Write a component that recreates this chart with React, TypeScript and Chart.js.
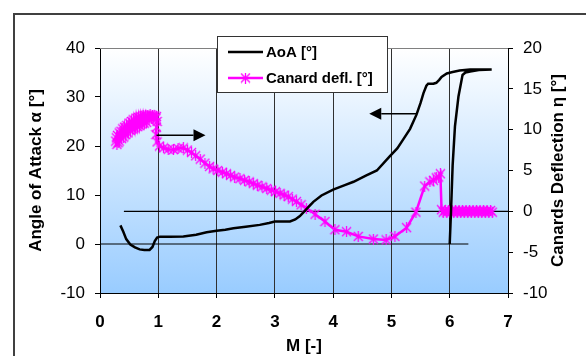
import React, { useEffect, useRef } from "react";
import { Chart, registerables } from "chart.js";

Chart.register(...registerables);

// ---------- data ----------
const aoaMach = [
  0.35, 0.40, 0.45, 0.52, 0.60, 0.68, 0.76, 0.85, 0.90, 0.94, 0.98, 1.03, 1.20, 1.43, 1.65, 1.83, 2.00,
  2.15, 2.29, 2.50, 2.74, 2.90, 3.00, 3.26, 3.35, 3.43, 3.55, 3.66, 3.80, 4.00, 4.20, 4.35, 4.57, 4.75,
  4.97, 5.10, 5.20, 5.32, 5.43, 5.50, 5.55, 5.60, 5.63, 5.72, 5.77, 5.82, 5.86, 5.95, 6.05, 6.17, 6.35,
  6.55, 6.72, 6.50, 6.35, 6.27, 6.22, 6.15, 6.09, 6.05, 6.02, 6.00,
];
const aoaDeg = [
  3.8, 2.5, 1.0, -0.1, -0.7, -1.1, -1.2, -1.2, -0.6, 0.6, 1.3, 1.5, 1.5, 1.55, 1.9, 2.4, 2.7,
  2.9, 3.2, 3.5, 3.9, 4.3, 4.6, 4.6, 5.0, 5.7, 7.2, 8.6, 9.9, 11.1, 12.0, 12.7, 14.0, 15.0,
  17.9, 19.5, 21.3, 23.5, 26.4, 28.8, 30.8, 32.3, 32.7, 32.7, 32.9, 33.5, 34.1, 34.8, 35.1, 35.4, 35.6,
  35.6, 35.6, 35.5, 35.2, 35.0, 34.5, 30.1, 24.0, 16.0, 6.0, 0.0,
];

const canardMach = [
  0.27, 0.28, 0.29, 0.30, 0.31, 0.33, 0.33, 0.36, 0.37, 0.39, 0.40, 0.42, 0.44, 0.46, 0.48, 0.50,
  0.52, 0.54, 0.56, 0.58, 0.60, 0.62, 0.64, 0.66, 0.68, 0.70, 0.72, 0.74, 0.76, 0.78, 0.80, 0.82,
  0.84, 0.86, 0.88, 0.90, 0.92, 0.94, 0.96, 0.97, 0.98, 0.97, 0.96, 0.98, 1.02, 1.09, 1.17, 1.26,
  1.34, 1.43, 1.50, 1.57, 1.64, 1.72, 1.80, 1.88, 1.94, 2.02, 2.10, 2.17, 2.24, 2.31, 2.40, 2.48,
  2.56, 2.63, 2.70, 2.78, 2.86, 2.94, 3.01, 3.09, 3.16, 3.23, 3.30, 3.37, 3.45, 3.54, 3.69, 3.86,
  4.03, 4.23, 4.43, 4.69, 4.91, 5.06, 5.26, 5.42, 5.57, 5.66, 5.72, 5.77, 5.81, 5.84, 5.86, 5.89,
  5.92, 5.95, 5.98, 6.01, 6.04, 6.07, 6.10, 6.13, 6.16, 6.19, 6.22, 6.25, 6.28, 6.31, 6.34, 6.37,
  6.40, 6.43, 6.46, 6.49, 6.52, 6.55, 6.58, 6.61, 6.64, 6.67, 6.70, 6.73,
];
const canardDeg = [
  8.6, 9.0, 8.2, 9.3, 8.4, 9.6, 8.6, 9.8, 8.9, 10.1, 9.1, 10.3, 9.4, 10.5, 9.6, 10.8,
  9.9, 11.0, 10.1, 11.2, 10.2, 11.4, 10.4, 11.5, 10.5, 11.6, 10.7, 11.7, 10.8, 11.7, 10.9, 11.7,
  11.2, 11.8, 11.4, 11.7, 11.5, 11.7, 11.4, 11.6, 11.0, 10.3, 9.4, 8.5, 8.0, 7.76, 7.6, 7.55,
  7.7, 7.76, 7.5, 7.2, 6.8, 6.4, 5.9, 5.5, 5.2, 5.0, 4.8, 4.6, 4.4, 4.2, 4.0, 3.8,
  3.6, 3.4, 3.2, 3.0, 2.8, 2.6, 2.4, 2.2, 2.0, 1.8, 1.5, 1.2, 0.8, 0.4, -0.35, -1.25,
  -2.25, -2.5, -3.07, -3.39, -3.5, -3.07, -2.0, -0.1, 3.1, 3.6, 3.8, 4.1, 4.2, 4.6, 0.2, -0.1,
  0.1, -0.1, 0.1, -0.1, 0.1, -0.1, 0.1, -0.1, 0.1, -0.1, 0.1, -0.1, 0.1, -0.1, 0.1, -0.1,
  0.1, -0.1, 0.1, -0.1, 0.1, -0.1, 0.1, -0.1, 0.1, -0.1, 0.1, -0.1,
];

// reference lines: alpha = 0 (left axis) and eta = 0 (right axis)
const alphaZeroMach = [0, 6.32];
const etaZeroMach = [0.41, 7];

// annotation arrows (Mach, alpha)
const arrowToCanard = { from: [0.97, 22.2], to: [1.81, 22.2] };
const arrowToAoA = { from: [5.43, 26.6], to: [4.62, 26.6] };

const xRange = [0, 7];
const leftRange = [-10, 40];
const rightRange = [-10, 20];

const xTitle = "M [-]";
const leftTitle = "Angle of Attack α [°]";
const rightTitle = "Canards Deflection η [°]";
const legendLabels = ["AoA [°]", "Canard defl. [°]"];

const FONT = "'Liberation Sans', Arial, Helvetica, sans-serif";
const MAGENTA = "#ff00ff";

function makeStar(size: number, color: string) {
  const c = document.createElement("canvas");
  c.width = size;
  c.height = size;
  const g = c.getContext("2d")!;
  g.strokeStyle = color;
  g.lineWidth = 1.3;
  const m = 1;
  g.beginPath();
  g.moveTo(m, m);
  g.lineTo(size - m, size - m);
  g.moveTo(size - m, m);
  g.lineTo(m, size - m);
  g.moveTo(size / 2, 0);
  g.lineTo(size / 2, size);
  g.stroke();
  return c;
}

function drawArrow(ctx: CanvasRenderingContext2D, x1: number, y1: number, x2: number, y2: number) {
  const dir = Math.sign(x2 - x1);
  const headLen = 12;
  const half = 6;
  ctx.beginPath();
  ctx.moveTo(x1, y1);
  ctx.lineTo(x2 - dir * headLen, y2);
  ctx.stroke();
  ctx.beginPath();
  ctx.moveTo(x2, y2);
  ctx.lineTo(x2 - dir * headLen, y2 - half);
  ctx.lineTo(x2 - dir * headLen, y2 + half);
  ctx.closePath();
  ctx.fill();
}

export default function App() {
  const ref = useRef<HTMLCanvasElement | null>(null);

  useEffect(() => {
    const canvas = ref.current;
    if (!canvas) return;
    const star = makeStar(11, MAGENTA);

    const decor = {
      id: "decor",
      beforeDraw(chart: any) {
        const { ctx, chartArea: a } = chart;
        ctx.save();
        ctx.fillStyle = "#ffffff";
        ctx.fillRect(0, 0, chart.width, chart.height);
        const g = ctx.createLinearGradient(0, a.top, 0, a.bottom);
        g.addColorStop(0, "#ffffff");
        g.addColorStop(1, "#99ccff");
        ctx.fillStyle = g;
        ctx.fillRect(a.left, a.top, a.right - a.left, a.bottom - a.top);
        // outer frame
        ctx.strokeStyle = "#404040";
        ctx.lineWidth = 2;
        ctx.beginPath();
        ctx.moveTo(14, chart.height + 5);
        ctx.lineTo(14, 14);
        ctx.lineTo(chart.width + 5, 14);
        ctx.stroke();
        ctx.restore();
      },
      afterDatasetsDraw(chart: any) {
        const { ctx, chartArea: a, scales } = chart;
        const xs = scales.x;
        const ys = scales.y;
        ctx.save();
        // plot-area top border
        ctx.strokeStyle = "#808080";
        ctx.lineWidth = 1;
        ctx.beginPath();
        ctx.moveTo(a.left, a.top + 0.5);
        ctx.lineTo(a.right, a.top + 0.5);
        ctx.stroke();

        // arrows
        ctx.strokeStyle = "#000";
        ctx.fillStyle = "#000";
        ctx.lineWidth = 1.5;
        for (const ar of [arrowToCanard, arrowToAoA]) {
          drawArrow(
            ctx,
            xs.getPixelForValue(ar.from[0]),
            ys.getPixelForValue(ar.from[1]),
            xs.getPixelForValue(ar.to[0]),
            ys.getPixelForValue(ar.to[1])
          );
        }

        // legend
        const lx = 217, ly = 36, lw = 170, lh = 56;
        ctx.fillStyle = "#ffffff";
        ctx.fillRect(lx, ly, lw, lh);
        ctx.strokeStyle = "#333";
        ctx.lineWidth = 1;
        ctx.strokeRect(lx + 0.5, ly + 0.5, lw, lh);
        ctx.font = `bold 15px ${FONT}`;
        ctx.textBaseline = "middle";
        ctx.textAlign = "left";
        const rows = [ly + 16, ly + 42];
        // row 1
        ctx.strokeStyle = "#000";
        ctx.lineWidth = 2.5;
        ctx.beginPath();
        ctx.moveTo(lx + 11, rows[0]);
        ctx.lineTo(lx + 46, rows[0]);
        ctx.stroke();
        ctx.fillStyle = "#000";
        ctx.fillText(legendLabels[0], lx + 49, rows[0] + 1);
        // row 2
        ctx.strokeStyle = MAGENTA;
        ctx.beginPath();
        ctx.moveTo(lx + 11, rows[1]);
        ctx.lineTo(lx + 46, rows[1]);
        ctx.stroke();
        ctx.drawImage(star, lx + 28.5 - 5.5, rows[1] - 5.5);
        ctx.fillText(legendLabels[1], lx + 49, rows[1] + 1);

        // axis titles
        ctx.font = `bold 17px ${FONT}`;
        ctx.textAlign = "center";
        ctx.textBaseline = "middle";
        const cy = (a.top + a.bottom) / 2;
        ctx.save();
        ctx.translate(36, cy);
        ctx.rotate(-Math.PI / 2);
        ctx.fillText(leftTitle, 0, 0);
        ctx.restore();
        ctx.save();
        ctx.translate(558, cy);
        ctx.rotate(-Math.PI / 2);
        ctx.fillText(rightTitle, 0, 0);
        ctx.restore();
        ctx.fillText(xTitle, (a.left + a.right) / 2, 346);
        ctx.restore();
      },
    };

    const tickFont = { family: FONT, size: 17 };

    const chart = new Chart(canvas, {
      type: "line",
      data: {
        datasets: [
          {
            label: legendLabels[0],
            data: aoaMach.map((m, i) => ({ x: m, y: aoaDeg[i] })),
            yAxisID: "y",
            borderColor: "#000",
            borderWidth: 2.5,
            pointRadius: 0,
            tension: 0,
            order: 1,
          },
          {
            label: legendLabels[1],
            data: canardMach.map((m, i) => ({ x: m, y: canardDeg[i] })),
            yAxisID: "y2",
            borderColor: MAGENTA,
            borderWidth: 2.5,
            pointStyle: star as any,
            pointRadius: 5,
            tension: 0,
            order: 2,
          },
          {
            label: "alpha0",
            data: alphaZeroMach.map((m) => ({ x: m, y: 0 })),
            yAxisID: "y",
            borderColor: "#000",
            borderWidth: 1.2,
            pointRadius: 0,
            order: 3,
          },
          {
            label: "eta0",
            data: etaZeroMach.map((m) => ({ x: m, y: 0 })),
            yAxisID: "y2",
            borderColor: "#000",
            borderWidth: 1.2,
            pointRadius: 0,
            order: 4,
          },
        ],
      },
      options: {
        animation: false,
        responsive: false,
        devicePixelRatio: 1,
        layout: { padding: { top: 48, left: 0, right: 0, bottom: 0 } },
        plugins: { legend: { display: false }, tooltip: { enabled: false } },
        scales: {
          x: {
            type: "linear",
            position: "bottom",
            min: xRange[0],
            max: xRange[1],
            ticks: { stepSize: 1, color: "#000", font: { ...tickFont, weight: "bold" }, padding: 14 },
            grid: { color: "#303030", lineWidth: 1, drawTicks: true, tickLength: 5, tickColor: "#000" },
            border: { color: "#000", width: 1 },
            afterFit: (s: any) => {
              s.height = 63;
            },
          },
          y: {
            position: "left",
            min: leftRange[0],
            max: leftRange[1],
            ticks: { stepSize: 10, color: "#000", font: tickFont, padding: 10 },
            grid: { drawOnChartArea: false, drawTicks: true, tickLength: 5, tickColor: "#000" },
            border: { color: "#000", width: 1 },
            afterFit: (s: any) => {
              s.width = 100;
            },
          },
          y2: {
            position: "right",
            min: rightRange[0],
            max: rightRange[1],
            ticks: { stepSize: 5, color: "#000", font: tickFont, padding: 10 },
            grid: { drawOnChartArea: false, drawTicks: true, tickLength: 5, tickColor: "#000" },
            border: { color: "#000", width: 1 },
            afterFit: (s: any) => {
              s.width = 78;
            },
          },
        },
      } as any,
      plugins: [decor as any],
    });
    return () => chart.destroy();
  }, []);

  return (
    <div style={{ position: "fixed", left: 0, top: 0, width: 586, height: 356, background: "#fff" }}>
      <canvas ref={ref} width={586} height={356} style={{ display: "block" }} />
    </div>
  );
}
